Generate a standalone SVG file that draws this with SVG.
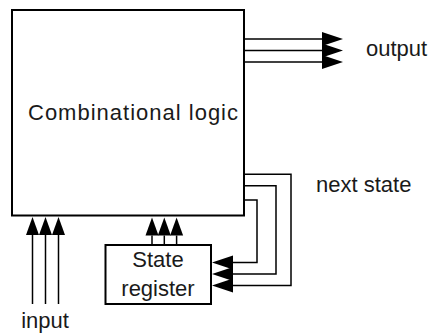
<svg xmlns="http://www.w3.org/2000/svg" width="435" height="333" viewBox="0 0 435 333">
  <style>
    .box { fill: #ffffff; stroke: #000000; stroke-width: 2; }
    .wire { fill: none; stroke: #000000; stroke-width: 1.5; }
    .lbl { font-family: "Liberation Sans", Arial, sans-serif; font-size: 22px; fill: #1a1a1a; }
  </style>
  <defs>
    <marker id="arrowH" markerUnits="userSpaceOnUse" markerWidth="21" markerHeight="14" refX="0" refY="7" orient="auto" overflow="visible">
      <path d="M0,0 L21,7 L0,14 Z" fill="#000000"/>
    </marker>
    <marker id="arrowV" markerUnits="userSpaceOnUse" markerWidth="18" markerHeight="13" refX="0" refY="6.5" orient="auto" overflow="visible">
      <path d="M0,0 L18,6.5 L0,13 Z" fill="#000000"/>
    </marker>
  </defs>
  <rect width="435" height="333" fill="#ffffff"/>

  <g id="combinational-logic">
    <rect class="box" x="12" y="10" width="232" height="205.5"/>
    <text class="lbl" x="28" y="119.5" textLength="210" lengthAdjust="spacing">Combinational logic</text>
  </g>

  <g id="state-register">
    <rect class="box" x="105.5" y="245" width="105.5" height="59"/>
    <text class="lbl" x="158" y="266.5" text-anchor="middle">State</text>
    <text class="lbl" x="158" y="296" text-anchor="middle">register</text>
  </g>

  <g id="connectors">
    <!-- outputs -->
    <path class="wire" d="M244,39 H322" marker-end="url(#arrowH)"/>
    <path class="wire" d="M244,50.5 H322" marker-end="url(#arrowH)"/>
    <path class="wire" d="M244,62 H322" marker-end="url(#arrowH)"/>
    <!-- inputs -->
    <path class="wire" d="M32.5,304 V235" marker-end="url(#arrowV)"/>
    <path class="wire" d="M45.5,304 V235" marker-end="url(#arrowV)"/>
    <path class="wire" d="M58.5,304 V235" marker-end="url(#arrowV)"/>
    <!-- state register to logic -->
    <path class="wire" d="M152,245 V235.5" marker-end="url(#arrowV)"/>
    <path class="wire" d="M164.3,245 V235.5" marker-end="url(#arrowV)"/>
    <path class="wire" d="M176.6,245 V235.5" marker-end="url(#arrowV)"/>
    <!-- next state feedback -->
    <path class="wire" d="M244,174.3 H291 V285.5 H233" marker-end="url(#arrowH)"/>
    <path class="wire" d="M244,185.7 H276 V274 H233" marker-end="url(#arrowH)"/>
    <path class="wire" d="M244,200 H257 V262.5 H233" marker-end="url(#arrowH)"/>
  </g>

  <g id="labels">
    <text class="lbl" x="366" y="56">output</text>
    <text class="lbl" x="316" y="191.5">next state</text>
    <text class="lbl" x="45" y="328" text-anchor="middle">input</text>
  </g>
</svg>
